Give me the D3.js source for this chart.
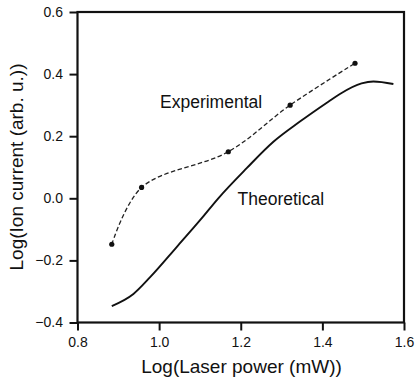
<!DOCTYPE html>
<html>
<head>
<meta charset="utf-8">
<script src="https://cdn.jsdelivr.net/npm/d3@7"></script>
<style>
  html, body { margin: 0; padding: 0; background: #fff; }
  svg { display: block; }
  text { font-family: "Liberation Sans", Arial, Helvetica, sans-serif; fill: #111; }
</style>
</head>
<body>
<svg id="chart" width="416" height="382"></svg>
<script>
// Log-log laser power dependence of the ion current
const expX = [0.884, 0.957, 1.1695, 1.321, 1.48];
const expY = [-0.148, 0.035, 0.150, 0.300, 0.435];

const theoX = [0.884, 0.937, 0.978, 1.043, 1.104, 1.145, 1.2146, 1.280, 1.345, 1.4146, 1.443, 1.496, 1.525, 1.574];
const theoY = [-0.347, -0.308, -0.254, -0.157, -0.065, 0.000, 0.097, 0.182, 0.247, 0.311, 0.336, 0.370, 0.376, 0.368];

const xTicks = [0.8, 1.0, 1.2, 1.4, 1.6];
const yTicks = [-0.4, -0.2, 0.0, 0.2, 0.4, 0.6];

const xLabel = "Log(Laser power (mW))";
const yLabel = "Log(Ion current (arb. u.))";
const labelExp = "Experimental";
const labelTheo = "Theoretical";

const svg = d3.select("#chart");
const plotLeft = 77.5, plotRight = 404, plotTop = 12, plotBottom = 322.5;

const x = d3.scaleLinear().domain([0.8, 1.6]).range([plotLeft, plotRight]);
const y = d3.scaleLinear().domain([-0.4, 0.6]).range([plotBottom, plotTop]);

const fmt = v => d3.format(".1f")(v).replace("-", "\u2212");

// axes
const gx = svg.append("g").attr("transform", `translate(0,${plotBottom})`)
  .call(d3.axisBottom(x).tickValues(xTicks).tickFormat(fmt).tickSize(8).tickPadding(7).tickSizeOuter(0));
const gy = svg.append("g").attr("transform", `translate(${plotLeft},0)`)
  .call(d3.axisLeft(y).tickValues(yTicks).tickFormat(fmt).tickSize(8).tickPadding(6.5).tickSizeOuter(0));

[gx, gy].forEach(g => {
  g.select(".domain").remove();
  g.selectAll(".tick line").attr("stroke", "#111").attr("stroke-width", 2);
  g.selectAll(".tick text").attr("font-size", 14).attr("fill", "#111")
    .attr("font-family", "'Liberation Sans', Arial, sans-serif");
});

// frame
svg.append("rect")
  .attr("x", plotLeft).attr("y", plotTop)
  .attr("width", plotRight - plotLeft).attr("height", plotBottom - plotTop)
  .attr("fill", "none").attr("stroke", "#111").attr("stroke-width", 2.2);

// theoretical curve
const theo = theoX.map((v, i) => [v, theoY[i]]);
svg.append("path")
  .datum(theo)
  .attr("fill", "none").attr("stroke", "#111").attr("stroke-width", 1.9)
  .attr("stroke-linejoin", "round")
  .attr("d", d3.line().x(d => x(d[0])).y(d => y(d[1])).curve(d3.curveMonotoneX));

// experimental curve
const exp = expX.map((v, i) => [v, expY[i]]);
svg.append("path")
  .datum(exp)
  .attr("fill", "none").attr("stroke", "#222").attr("stroke-width", 1.3)
  .attr("stroke-dasharray", "4.5,2.5")
  .attr("d", d3.line().x(d => x(d[0])).y(d => y(d[1])).curve(d3.curveCatmullRom.alpha(0.5)));

svg.selectAll("circle.exp").data(exp).enter().append("circle")
  .attr("class", "exp")
  .attr("cx", d => x(d[0])).attr("cy", d => y(d[1]))
  .attr("r", 2.6).attr("fill", "#111");

// annotations
svg.append("text").attr("x", 160).attr("y", 107.5).attr("font-size", 17.5).text(labelExp);
svg.append("text").attr("x", 237.5).attr("y", 205).attr("font-size", 17.5).text(labelTheo);

// axis titles
svg.append("text").attr("x", 241.5).attr("y", 373).attr("text-anchor", "middle")
  .attr("font-size", 19).text(xLabel);
svg.append("text").attr("transform", "translate(23,167) rotate(-90)")
  .attr("text-anchor", "middle").attr("font-size", 19).text(yLabel);
</script>
</body>
</html>
